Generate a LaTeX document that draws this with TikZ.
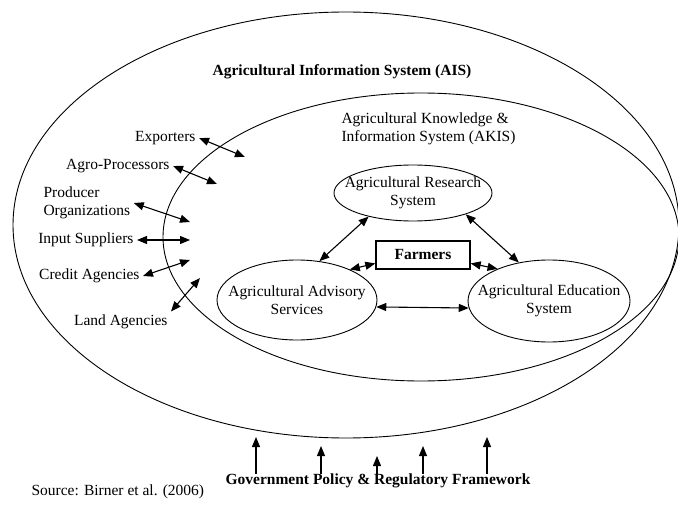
\documentclass[tikz,border=0pt]{standalone}
\usepackage{fontspec}
\setmainfont{Liberation Serif}
\usetikzlibrary{arrows.meta,shapes.geometric}

\tikzset{
    sysell/.style={draw, ellipse, line width=0.9pt, inner sep=0pt},
    link/.style={{Triangle[length=10pt,width=8pt]}-{Triangle[length=10pt,width=8pt]}, line width=1.1pt},
    push/.style={-{Triangle[length=10pt,width=8pt]}, line width=1.1pt},
}

\begin{document}
\begin{tikzpicture}[x=1pt, y=-1pt, font=\fontsize{15.5}{18}\selectfont]
    \clip (0,0) rectangle (678,508);

    \node[sysell, minimum width=666pt, minimum height=426pt] (ais) at (346,225) {};
    \node[sysell, minimum width=516pt, minimum height=288pt] (akis) at (421,237) {};
    \node (aistitle) at (342,72) {\textbf{Agricultural Information System (AIS)}};
    \node[align=left, anchor=west] (akistitle) at (338,129) {Agricultural Knowledge \&\\Information System (AKIS)};

    \node[sysell, minimum width=158pt, minimum height=56pt, label={[align=center]center:{Agricultural Research\\System}}] (research) at (413,193) {};
    \node[sysell, minimum width=160pt, minimum height=80pt, label={[align=center]center:{Agricultural Advisory\\Services}}] (advisory) at (297,300) {};
    \node[sysell, minimum width=162pt, minimum height=82pt, label={[align=center]center:{Agricultural Education\\System}}] (education) at (549,301) {};
    \node[draw, line width=1.4pt, minimum width=94pt, minimum height=28pt] (farmers) at (423,255) {\textbf{Farmers}};

    \draw[link] (research.208) -- (advisory.60);
    \draw[link] (research.338) -- (education.128);
    \draw[link] (farmers.190) -- (advisory.30);
    \draw[link] (farmers.350) -- (education.148);
    \draw[link] (advisory.-5) -- (education.185);

    \node[anchor=east] (exporters) at (199,138) {Exporters};
    \node[anchor=east] (agro) at (173,166) {Agro-Processors};
    \node[align=left, anchor=west] (producer) at (40,203) {Producer\\Organizations};
    \node[anchor=east] (input) at (137,240) {Input Suppliers};
    \node[anchor=east] (credit) at (143,276) {Credit Agencies};
    \node[anchor=east] (land) at (171,322) {Land Agencies};

    \coordinate (exportersin) at (245,157);
    \coordinate (agroin) at (217,184);
    \coordinate (producerin) at (190,222);
    \coordinate (inputin) at (190,240);
    \coordinate (creditin) at (190,260);
    \coordinate (landin) at (200,278);

    \foreach \actor in {exporters,agro,producer,input,credit}
        \draw[link] (\actor.east) -- (\actor in);
    \draw[link] (land.north east) -- (landin);

    \node[inner ysep=0pt] (policy) at (378,481) {\textbf{Government Policy \& Regulatory Framework}};
    \coordinate (p1) at (256,437);
    \coordinate (p2) at (321,446);
    \coordinate (p3) at (377,456);
    \coordinate (p4) at (423,446);
    \coordinate (p5) at (487,437);
    \foreach \i in {1,...,5}
        \draw[push] (p\i |- policy.north) -- (p\i);

    \node[anchor=west] (source) at (28,492) {Source: Birner et al. (2006)};
\end{tikzpicture}
\end{document}
